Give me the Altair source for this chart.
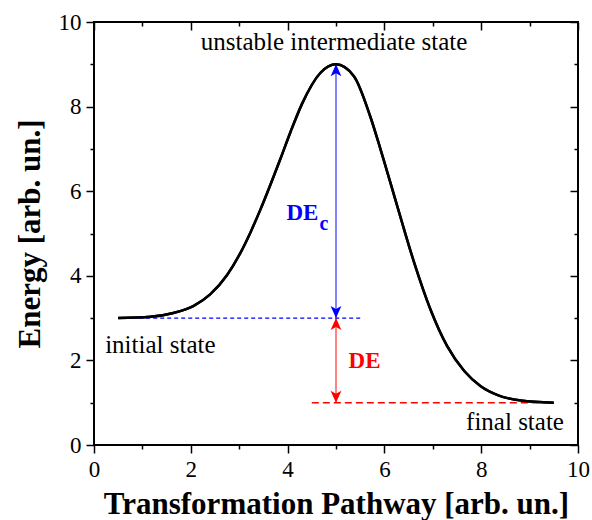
import altair as alt
import pandas as pd

# ---- data ----
path_x = [0.5, 1.16, 1.64, 2.06, 2.40, 2.75, 3.02, 3.23, 3.44, 3.85, 4.06, 4.30,
          4.68, 5.0, 5.37, 5.71, 5.92, 6.27, 6.61, 6.96, 7.30, 7.65, 7.99, 8.34,
          8.82, 9.5]
energy = [3.0, 3.03, 3.12, 3.29, 3.56, 4.02, 4.53, 5.02, 5.57, 6.76, 7.40, 8.07,
          8.80, 9.0, 8.72, 7.76, 6.99, 5.63, 4.33, 3.18, 2.33, 1.75, 1.39, 1.18,
          1.05, 1.0]

tick_major = [0, 2, 4, 6, 8, 10]
tick_minor = [1, 3, 5, 7, 9]

initial_level = 3.0
final_level = 1.0
peak_level = 9.0
barrier_x = 5.0
initial_line_x = [0.5, 5.5]
final_line_x = [4.5, 9.5]

note_text = ["unstable intermediate state", "initial state", "final state"]
note_x = [4.96, 0.23, 9.71]
note_y = [9.34, 2.17, 0.36]
note_align = ["center", "left", "right"]

dec_text = ["DE", "c"]
dec_x = [3.975, 4.66]
dec_y = [5.32, 5.08]
dec_size = [23, 20]
de_text = "DE"
de_x = 5.26
de_y = 1.82

SERIF = "Liberation Serif"
xs = alt.Scale(domain=[0, 10], nice=False, zero=False)
ys = alt.Scale(domain=[0, 10], nice=False, zero=False)

UP = "M0,0 L0.9,2 L0,1.5 L-0.9,2 Z"
DOWN = "M0,0 L0.9,-2 L0,-1.5 L-0.9,-2 Z"
TC = "black"
TW = 1.5


def tick_axis(orient, values, size, offset=0):
    kw = dict(orient=orient, values=values, tickSize=size,
              labels=False, domain=False, grid=False, title=None,
              tickColor=TC, tickWidth=TW)
    if offset:
        kw["offset"] = offset
    return alt.Axis(**kw)


x_bottom = alt.Axis(orient="bottom", values=tick_major, tickSize=8, format="d",
                    labelFont=SERIF, labelFontSize=23, labelColor="black",
                    labelPadding=5, labelFlush=False,
                    title="Transformation Pathway [arb. un.]", titleFont=SERIF,
                    titleFontSize=31, titleFontWeight="bold", titleColor="black",
                    titlePadding=8, domain=False, grid=False,
                    tickColor=TC, tickWidth=TW)
y_left = alt.Axis(orient="left", values=tick_major, tickSize=8, format="d",
                  labelFont=SERIF, labelFontSize=23, labelColor="black",
                  labelPadding=5, labelFlush=False,
                  title="Energy [arb. un.]", titleFont=SERIF, titleFontSize=31,
                  titleFontWeight="bold", titleColor="black", titlePadding=12,
                  domain=False, grid=False, tickColor=TC, tickWidth=TW)

init_df = pd.DataFrame({"x": [initial_line_x[0]], "x2": [initial_line_x[1]], "y": [initial_level]})
final_df = pd.DataFrame({"x": [final_line_x[0]], "x2": [final_line_x[1]], "y": [final_level]})
vert_df = pd.DataFrame({"x": [barrier_x, barrier_x], "y": [initial_level, final_level],
                        "y2": [peak_level, initial_level], "c": ["#5a5aff", "#ff5a5a"]})
curve_df = pd.DataFrame({"x": path_x, "y": energy})
up_df = pd.DataFrame({"x": [barrier_x, barrier_x], "y": [peak_level, initial_level],
                      "c": ["#0000ff", "#ff0000"]})
down_df = pd.DataFrame({"x": [barrier_x, barrier_x], "y": [initial_level, final_level],
                        "c": ["#0000ff", "#ff0000"]})
note_df = pd.DataFrame({"t": note_text, "x": note_x, "y": note_y, "a": note_align})
dec_df = pd.DataFrame({"t": dec_text, "x": dec_x, "y": dec_y, "s": dec_size})
de_df = pd.DataFrame({"t": [de_text], "x": [de_x], "y": [de_y]})

# curve layer carrying the labelled bottom/left axes (drawn first)
l_curve_axes = alt.Chart(curve_df).mark_line(color="black", strokeWidth=2.5, interpolate="monotone").encode(
    x=alt.X("x:Q", scale=xs, axis=x_bottom),
    y=alt.Y("y:Q", scale=ys, axis=y_left),
)
l_vert = alt.Chart(vert_df).mark_rule(strokeWidth=1.5).encode(
    x=alt.X("x:Q", scale=xs, axis=tick_axis("bottom", tick_minor, 4)),
    y=alt.Y("y:Q", scale=ys, axis=tick_axis("left", tick_minor, 4)),
    y2="y2:Q",
    color=alt.Color("c:N", scale=None),
)
l_init = alt.Chart(init_df).mark_rule(color="#0000ff", strokeWidth=1.2, strokeDash=[4, 3]).encode(
    x=alt.X("x:Q", scale=xs, axis=tick_axis("top", tick_major, 8, -8)),
    x2="x2:Q",
    y=alt.Y("y:Q", scale=ys, axis=tick_axis("right", tick_major, 8, -8)),
)
l_final = alt.Chart(final_df).mark_rule(color="#ff0000", strokeWidth=1.5, strokeDash=[7, 4]).encode(
    x=alt.X("x:Q", scale=xs, axis=tick_axis("top", tick_minor, 4, -4)),
    x2="x2:Q",
    y=alt.Y("y:Q", scale=ys, axis=tick_axis("right", tick_minor, 4, -4)),
)
# same curve again on top of the dashed levels
l_curve = alt.Chart(curve_df).mark_line(color="black", strokeWidth=2.5, interpolate="monotone").encode(
    x=alt.X("x:Q", scale=xs, axis=None),
    y=alt.Y("y:Q", scale=ys, axis=None),
)
l_up = alt.Chart(up_df).mark_point(shape=UP, filled=True, size=144, opacity=1).encode(
    x=alt.X("x:Q", scale=xs, axis=None),
    y=alt.Y("y:Q", scale=ys, axis=None),
    color=alt.Color("c:N", scale=None),
)
l_down = alt.Chart(down_df).mark_point(shape=DOWN, filled=True, size=144, opacity=1).encode(
    x=alt.X("x:Q", scale=xs, axis=None),
    y=alt.Y("y:Q", scale=ys, axis=None),
    color=alt.Color("c:N", scale=None),
)

note_layers = []
for al in ["center", "left", "right"]:
    note_layers.append(
        alt.Chart(note_df).transform_filter(alt.datum.a == al).mark_text(
            font=SERIF, fontSize=25, color="black", baseline="alphabetic", align=al
        ).encode(
            x=alt.X("x:Q", scale=xs, axis=None),
            y=alt.Y("y:Q", scale=ys, axis=None),
            text="t:N",
        )
    )

l_dec = alt.Chart(dec_df).mark_text(font=SERIF, fontWeight="bold", color="#0000ff",
                                    baseline="alphabetic", align="left").encode(
    x=alt.X("x:Q", scale=xs, axis=None),
    y=alt.Y("y:Q", scale=ys, axis=None),
    text="t:N",
    size=alt.Size("s:Q", scale=None),
)
l_de = alt.Chart(de_df).mark_text(font=SERIF, fontWeight="bold", fontSize=23, color="#ff0000",
                                  baseline="alphabetic", align="left").encode(
    x=alt.X("x:Q", scale=xs, axis=None),
    y=alt.Y("y:Q", scale=ys, axis=None),
    text="t:N",
)

chart = alt.layer(
    l_curve_axes, l_vert, l_init, l_final, l_curve, l_up, l_down, *note_layers, l_dec, l_de
).resolve_axis(x="independent", y="independent").properties(
    width=484, height=423,
    autosize=alt.AutoSizeParams(type="none"),
    padding={"left": 94, "top": 22, "right": 14, "bottom": 75},
).configure_view(stroke="black", strokeWidth=2)

chart.save("out.html", embed_options={"renderer": "svg", "actions": False})
